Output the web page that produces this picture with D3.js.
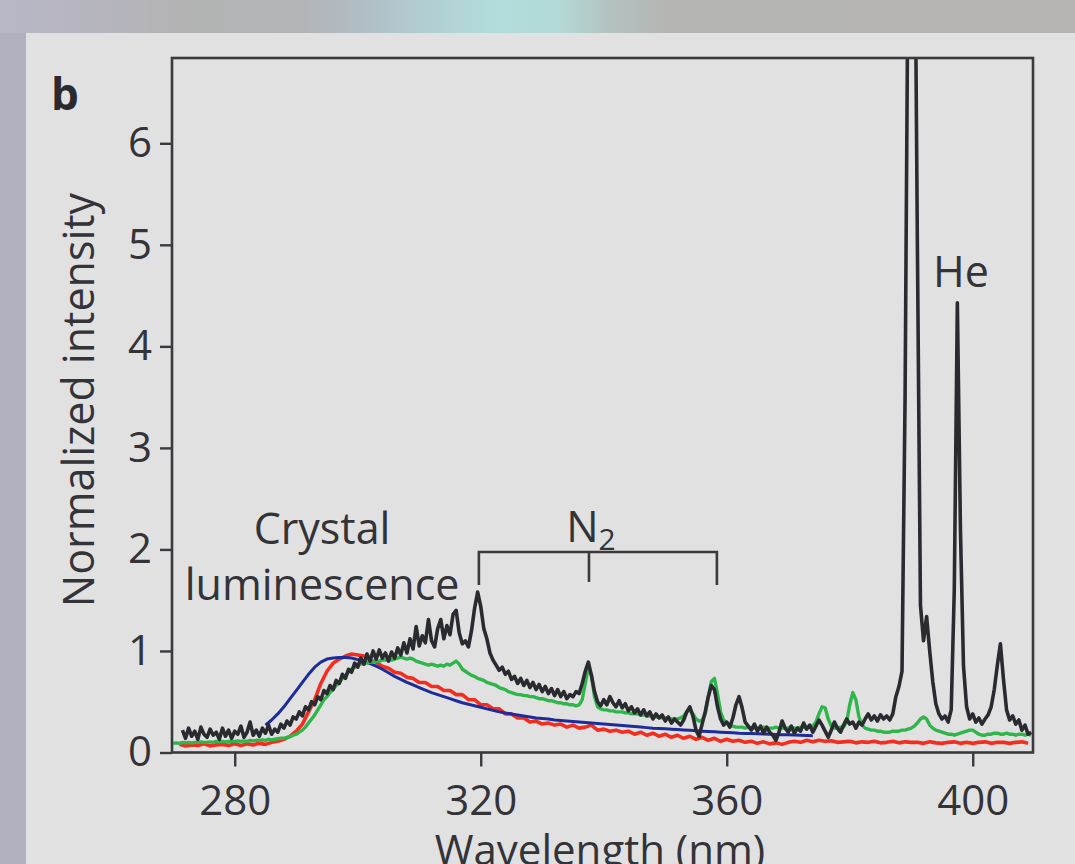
<!DOCTYPE html>
<html>
<head>
<meta charset="utf-8">
<script src="https://cdn.jsdelivr.net/npm/d3@7/dist/d3.min.js"></script>
<style>
  body { margin: 0; background: #e1e1e1; }
  svg { display: block; font-family: "Open Sans", "Noto Sans", sans-serif; }
</style>
</head>
<body>
<svg id="chart" width="1075" height="864"></svg>
<script>
// x ticks and y ticks
var xTicks = [280, 320, 360, 400];
var yTicks = [0, 1, 2, 3, 4, 5, 6];

// black spectrum, 0.5 nm steps from 271.5 nm
var blackStart = 271.5, blackStep = 0.5;
var blackVals = [
  .22, .14, .24, .16, .21, .13, .25,
  .18, .15, .23, .17, .20, .13, .24, .16, .22, .14,
  .21, .18, .26, .15, .20, .30, .17, .22, .16, .24,
  .19, .27, .18, .23, .20, .28, .24, .31, .27, .35,
  .33, .40, .36, .45, .42, .50, .47, .55, .52, .61,
  .58, .66, .62, .71, .68, .77, .73, .82, .79, .88,
  .84, .93, .87, .97, .90, 1.00, .92, 1.01, .93, .98,
  .90, .99, .93, 1.03, .96, 1.08, .98, 1.12, 1.02, 1.24,
  1.05, 1.15, 1.08, 1.31, 1.10, 1.04, 1.22, 1.31, 1.12, 1.25,
  1.16, 1.36, 1.40, 1.18, 1.07, 1.10, 1.04, 1.20, 1.42, 1.58,
  1.44, 1.22, 1.12, .98, .91, .86, .81, .84, .77, .80,
  .72, .75, .68, .73, .66, .71, .64, .69, .62, .67,
  .60, .65, .58, .63, .56, .62, .55, .60, .53, .57,
  .55, .60, .58, .68, .80, .89, .76, .60, .50, .46,
  .52, .47, .55, .49, .45, .51, .44, .48, .41, .45,
  .39, .43, .37, .42, .36, .40, .33, .38, .34, .37,
  .31, .35, .29, .33, .30, .27, .32, .40, .45, .36,
  .22, .16, .28, .40, .55, .66, .62, .45, .33, .27,
  .30, .25, .34, .47, .55, .44, .30, .26, .22, .28,
  .21, .26, .19, .25, .20, .17, .12, .20, .31, .24,
  .20, .26, .19, .24, .21, .29, .23, .27, .20, .26,
  .32, .27, .21, .15, .22, .30, .24, .20, .27, .33,
  .28, .30, .24, .30, .27, .33, .38, .32, .36, .31,
  .37, .33, .36, .32, .38, .55, .65, .80, 3.5, 8.0,
  12.0, 9.0, 5.0, 1.45, 1.10, 1.34, 1.00, .70, .48, .38,
  .33, .36, .30, .42, 1.6, 4.43, 2.2, .85, .45, .33,
  .38, .30, .34, .28, .33, .37, .45, .62, .86, 1.07,
  .72, .42, .32, .36, .28, .32, .22, .27, .18, .20
];

// green spectrum, 0.5 nm steps from 270 nm
var greenStart = 270, greenStep = 0.5;
var greenVals = [
  .09, .095, .09, .10, .095, .10, .095, .10, .10, .105,
  .10, .10, .105, .10, .11, .105, .11, .105, .11, .11,
  .11, .115, .11, .115, .11, .12, .115, .12, .12, .125,
  .12, .13, .125, .13, .135, .14, .14, .15, .155, .17,
  .18, .20, .22, .25, .29, .33, .37, .42, .47, .52,
  .55, .59, .62, .66, .69, .73, .76, .79, .82, .84,
  .86, .87, .88, .88, .89, .89, .90, .90, .91, .91,
  .92, .91, .92, .93, .94, .93, .92, .93, .92, .90,
  .89, .88, .87, .86, .87, .86, .85, .86, .85, .87,
  .86, .88, .90, .87, .82, .80, .78, .76, .75, .73,
  .72, .71, .69, .68, .67, .66, .64, .63, .62, .60,
  .59, .58, .57, .57, .56, .56, .55, .55, .54, .53,
  .53, .52, .51, .51, .50, .49, .49, .48, .48, .47,
  .47, .46, .47, .52, .68, .84, .76, .55, .45, .43,
  .42, .42, .41, .41, .40, .40, .40, .39, .39, .38,
  .38, .38, .37, .37, .36, .36, .36, .35, .35, .34,
  .34, .34, .33, .33, .33, .34, .36, .40, .42, .38,
  .33, .31, .32, .38, .55, .70, .73, .58, .40, .32,
  .29, .27, .26, .25, .25, .25, .24, .25, .24, .24,
  .24, .24, .25, .24, .24, .24, .25, .24, .24, .24,
  .24, .25, .24, .24, .25, .25, .24, .25, .26, .30,
  .38, .45, .44, .33, .26, .24, .24, .25, .25, .30,
  .47, .59, .52, .35, .27, .24, .23, .22, .22, .21,
  .21, .20, .20, .20, .21, .21, .21, .22, .22, .23,
  .24, .26, .29, .33, .35, .33, .27, .24, .22, .21,
  .20, .19, .18, .18, .17, .18, .19, .20, .21, .22,
  .22, .20, .18, .17, .17, .18, .18, .19, .19, .18,
  .18, .19, .18, .18, .17, .18, .18, .17, .18, .17
];

// red spectrum, 1 nm steps from 271 nm
var redStart = 271, redStep = 1;
var redVals = [
  .08, .065, .075, .07, .085, .065, .075, .08, .07, .085,
  .07, .085, .075, .09, .08, .10, .11, .13, .16, .21,
  .28, .40, .52, .68, .80, .88, .92, .95, .97, .96,
  .95, .91, .89, .85, .83, .79, .78, .74, .73, .69,
  .69, .65, .65, .61, .61, .57, .57, .52, .52, .47,
  .47, .43, .43, .38, .38, .34, .34, .30, .31, .28,
  .29, .27, .28, .25, .27, .24, .25, .27, .22, .23,
  .21, .22, .20, .21, .18, .20, .17, .19, .16, .18,
  .15, .17, .14, .16, .13, .15, .12, .14, .11, .13,
  .11, .12, .10, .11, .09, .105, .085, .095, .08, .10,
  .11, .10, .12, .105, .12, .11, .115, .10, .105, .11,
  .095, .105, .10, .11, .095, .10, .11, .095, .105, .10,
  .10, .09, .105, .095, .09, .10, .105, .09, .10, .09,
  .10, .105, .09, .10, .10, .09, .10, .105, .09
];

// blue fit, 1 nm steps from 285 nm
var blueStart = 285, blueStep = 1;
var blueVals = [
  .27, .32, .38, .45, .53, .61, .69, .77, .84, .89,
  .92, .93, .935, .935, .93, .915, .90, .875, .85, .82,
  .785, .75, .72, .69, .665, .64, .615, .59, .57, .55,
  .53, .51, .49, .475, .46, .445, .43, .415, .40, .39,
  .38, .37, .36, .35, .34, .335, .33, .32, .315, .31,
  .305, .30, .295, .29, .285, .28, .275, .27, .265, .26,
  .255, .25, .245, .24, .237, .233, .23, .226, .222, .218,
  .214, .21, .207, .204, .20, .197, .194, .19, .188, .186,
  .184, .182, .18, .178, .176, .174, .172, .17, .168, .166
];

// N2 bracket marks (nm)
var n2Lines = [319.7, 337.6, 358.4];

var svg = d3.select('#chart');
var W = +svg.attr('width'), H = +svg.attr('height');
var ink = '#3a3a3e';
var txt = '#333338';

// background pieces
var defs = svg.append('defs');
var grad = defs.append('linearGradient').attr('id', 'topband');
[[0, '#b8b7c6'], [0.13, '#b4b4ba'], [0.17, '#b3b3b3'], [0.28, '#b2b4b6'],
 [0.34, '#b0bec6'], [0.40, '#b0cfd3'], [0.46, '#b2dcdc'], [0.52, '#b3d9d7'],
 [0.57, '#b3c1bf'], [0.62, '#b4b5b3'], [1, '#b6b4b1']].forEach(function(s) {
  grad.append('stop').attr('offset', s[0]).attr('stop-color', s[1]);
});
svg.append('rect').attr('width', W).attr('height', H).attr('fill', '#e1e1e1');
svg.append('rect').attr('width', W).attr('height', 33).attr('fill', 'url(#topband)');
svg.append('rect').attr('y', 33).attr('width', 26).attr('height', H - 33).attr('fill', '#b2b1bf');

var x = d3.scaleLinear().domain([269.8, 409.8]).range([172, 1033]);
var y = d3.scaleLinear().domain([0, 6.84]).range([752.5, 58]);

defs.append('clipPath').attr('id', 'plotclip')
  .append('rect')
  .attr('x', x.range()[0]).attr('y', y.range()[1])
  .attr('width', x.range()[1] - x.range()[0])
  .attr('height', y.range()[0] - y.range()[1]);

function series(start, step, vals) {
  return vals.map(function(v, i) { return [start + i * step, v]; });
}

var line = d3.line()
  .x(function(d) { return x(d[0]); })
  .y(function(d) { return y(d[1]); });

var plot = svg.append('g').attr('clip-path', 'url(#plotclip)');
var traces = [
  {data: series(redStart, redStep, redVals), color: '#f42d1f', w: 3.6},
  {data: series(blueStart, blueStep, blueVals), color: '#1d2c9c', w: 3},
  {data: series(greenStart, greenStep, greenVals), color: '#2fb64b', w: 3.4},
  {data: series(blackStart, blackStep, blackVals), color: '#2a2b30', w: 3.6}
];
traces.forEach(function(t) {
  plot.append('path')
    .datum(t.data)
    .attr('fill', 'none')
    .attr('stroke', t.color)
    .attr('stroke-width', t.w)
    .attr('stroke-linejoin', 'round')
    .attr('d', line);
});

// frame
svg.append('rect')
  .attr('x', x.range()[0]).attr('y', y.range()[1])
  .attr('width', x.range()[1] - x.range()[0])
  .attr('height', y.range()[0] - y.range()[1])
  .attr('fill', 'none').attr('stroke', ink).attr('stroke-width', 2.6);

// axes
var xAxis = d3.axisBottom(x).tickValues(xTicks).tickSize(14).tickPadding(19)
  .tickFormat(d3.format('d'));
var gx = svg.append('g').attr('transform', 'translate(0,' + y.range()[0] + ')').call(xAxis);
var yAxis = d3.axisLeft(y).tickValues(yTicks).tickSize(12).tickPadding(8)
  .tickFormat(d3.format('d'));
var gy = svg.append('g').attr('transform', 'translate(' + x.range()[0] + ',0)').call(yAxis);
[gx, gy].forEach(function(g) {
  g.select('.domain').remove();
  g.selectAll('line').attr('stroke', ink).attr('stroke-width', 2.4);
  g.selectAll('text')
    .attr('fill', txt)
    .style('font-family', '"Open Sans", sans-serif')
    .style('font-size', '42px');
});

// axis titles
svg.append('text')
  .attr('x', 600).attr('y', 865)
  .attr('text-anchor', 'middle')
  .attr('fill', txt).style('font-size', '42px')
  .text('Wavelength (nm)');
svg.append('text')
  .attr('transform', 'translate(94,400) rotate(-90)')
  .attr('text-anchor', 'middle')
  .attr('fill', txt).style('font-size', '43px')
  .text('Normalized intensity');
svg.append('text')
  .attr('x', 51).attr('y', 110)
  .attr('fill', '#2a2a2e').style('font-size', '44px').style('font-weight', 'bold')
  .text('b');

// annotations
svg.append('text')
  .attr('x', x(294.2)).attr('y', y(2.05))
  .attr('text-anchor', 'middle').attr('fill', txt).style('font-size', '43px')
  .text('Crystal');
svg.append('text')
  .attr('x', x(294.2)).attr('y', y(1.5))
  .attr('text-anchor', 'middle').attr('fill', txt).style('font-size', '43px')
  .text('luminescence');
svg.append('text')
  .attr('x', x(398.1)).attr('y', y(4.58))
  .attr('text-anchor', 'middle').attr('fill', txt).style('font-size', '43px')
  .text('He');

var n2 = svg.append('text')
  .attr('x', x(333.9)).attr('y', y(2.07))
  .attr('fill', txt).style('font-size', '43px');
n2.append('tspan').text('N');
n2.append('tspan').attr('dy', 8).style('font-size', '30px').text('2');

// N2 bracket
var br = svg.append('g').attr('stroke', ink).attr('stroke-width', 2.6).attr('fill', 'none');
br.append('path')
  .attr('d', 'M' + x(n2Lines[0]) + ',' + y(1.65) +
             'V' + y(1.975) + 'H' + x(n2Lines[2]) + 'V' + y(1.65));
br.append('line')
  .attr('x1', x(n2Lines[1])).attr('x2', x(n2Lines[1]))
  .attr('y1', y(1.975)).attr('y2', y(1.68));
</script>
</body>
</html>
